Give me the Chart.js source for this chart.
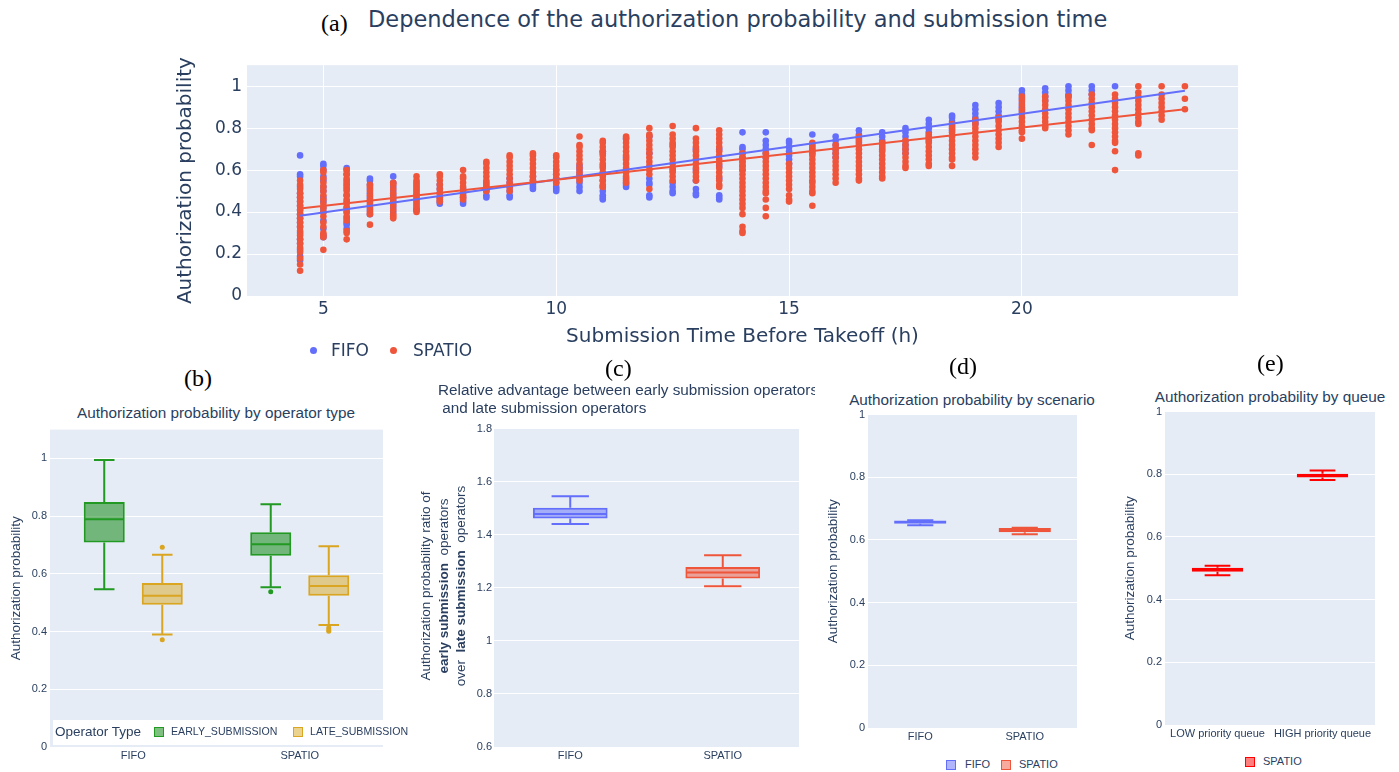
<!DOCTYPE html>
<html><head><meta charset="utf-8">
<script src="https://cdn.jsdelivr.net/npm/chart.js@4.4.0/dist/chart.umd.min.js"></script>
<style>
html,body{margin:0;padding:0;background:#fff;}
#page{position:relative;width:1399px;height:772px;overflow:hidden;background:#fff;}
.abs{position:absolute;white-space:pre;}
canvas{position:absolute;}
.lbl{font-family:"Liberation Serif","Times New Roman",serif;font-size:24px;line-height:28px;color:#000;}
.sans{font-family:"Liberation Sans",Arial,sans-serif;color:#2a3f5f;}
.dv{font-family:"DejaVu Sans",Verdana,sans-serif;color:#2a3f5f;}
.dot{position:absolute;width:7px;height:7px;border-radius:50%;}
.sq{position:absolute;width:8px;height:8px;border:1.5px solid;}
</style></head><body><div id="page">

<!-- (a) -->
<div class="abs lbl" style="left:321px;top:9px;">(a)</div>
<div class="abs dv" style="left:368px;top:6px;font-size:22.5px;line-height:27px;">Dependence of the authorization probability and submission time</div>
<canvas id="cA" width="1090" height="310" style="left:160px;top:50px;"></canvas>
<div class="dot" style="left:310px;top:347px;background:#636efa;"></div>
<div class="abs dv" style="left:331px;top:340px;font-size:17px;line-height:20px;">FIFO</div>
<div class="dot" style="left:390px;top:347px;background:#EF553B;"></div>
<div class="abs dv" style="left:413px;top:340px;font-size:17px;line-height:20px;">SPATIO</div>

<!-- (b) -->
<div class="abs lbl" style="left:184px;top:364px;">(b)</div>
<div class="abs sans" style="left:16px;top:404px;width:400px;text-align:center;font-size:15.3px;line-height:18px;">Authorization probability by operator type</div>
<canvas id="cB" width="390" height="352" style="left:0px;top:420px;"></canvas>
<div class="abs" style="left:53px;top:720px;width:330px;height:25px;background:#fff;"></div>
<div class="abs sans" style="left:55px;top:723px;font-size:13.5px;line-height:17px;">Operator Type</div>
<div class="sq" style="left:154px;top:727px;background:rgba(0,128,0,0.5);border-color:#229922;"></div>
<div class="abs sans" style="left:171px;top:725px;font-size:10.6px;line-height:13px;">EARLY_SUBMISSION</div>
<div class="sq" style="left:293px;top:727px;background:rgba(218,165,32,0.5);border-color:#DAA520;"></div>
<div class="abs sans" style="left:310px;top:725px;font-size:10.6px;line-height:13px;">LATE_SUBMISSION</div>

<!-- (c) -->
<div class="abs lbl" style="left:605px;top:354px;">(c)</div>
<div class="abs sans" style="left:438px;top:381px;width:377px;overflow:hidden;font-size:15.3px;line-height:18px;">Relative advantage between early submission operators
 and late submission operators</div>
<canvas id="cC" width="400" height="352" style="left:410px;top:420px;"></canvas>
<div class="abs sans" style="left:293px;top:560px;width:300px;height:52px;text-align:center;font-size:13.5px;line-height:17.5px;transform:rotate(-90deg);white-space:pre;">Authorization probability ratio of
<b>early submission</b>  operators
over  <b>late submission</b>  operators</div>

<!-- (d) -->
<div class="abs lbl" style="left:949px;top:352px;">(d)</div>
<div class="abs sans" style="left:822px;top:391px;width:300px;text-align:center;font-size:15.3px;line-height:18px;">Authorization probability by scenario</div>
<canvas id="cD" width="270" height="345" style="left:815px;top:405px;"></canvas>
<div class="sq" style="left:946px;top:760px;background:rgba(99,110,250,0.5);border-color:#636efa;"></div>
<div class="abs sans" style="left:965px;top:758px;font-size:11px;line-height:13px;">FIFO</div>
<div class="sq" style="left:1001px;top:760px;background:rgba(239,85,59,0.5);border-color:#EF553B;"></div>
<div class="abs sans" style="left:1019px;top:758px;font-size:11px;line-height:13px;">SPATIO</div>

<!-- (e) -->
<div class="abs lbl" style="left:1257px;top:349px;">(e)</div>
<div class="abs sans" style="left:1120px;top:388px;width:300px;text-align:center;font-size:15.3px;line-height:18px;">Authorization probability by queue</div>
<canvas id="cE" width="280" height="346" style="left:1110px;top:402px;"></canvas>
<div class="sq" style="left:1245px;top:757px;background:rgba(255,0,0,0.5);border-color:#ff0000;"></div>
<div class="abs sans" style="left:1263px;top:755px;font-size:11px;line-height:13px;">SPATIO</div>

</div>
<script>
// ---------- (a) scatter data ----------
const hours = [4.5,5,5.5,6,6.5,7,7.5,8,8.5,9,9.5,10,10.5,11,11.5,12,12.5,13,13.5,14,14.5,15,15.5,16,16.5,17,17.5,18,18.5,19,19.5,20,20.5,21,21.5,22,22.5,23,23.5];
const fifoProb = [
 [0.67,0.58,0.57,0.52,0.49,0.47,0.45,0.43,0.41,0.39,0.37,0.35,0.33,0.30,0.27,0.25,0.22,0.19,0.17],
 [0.63,0.62,0.60,0.57,0.55,0.52,0.50,0.47,0.45,0.42,0.40,0.36,0.32,0.29,0.28],
 [0.61,0.60,0.58,0.55,0.53,0.51,0.48,0.45,0.42,0.40,0.37,0.35,0.34,0.32],
 [0.56,0.55,0.53,0.51,0.49,0.47,0.45,0.43,0.41,0.39],
 [0.57,0.54,0.52,0.50,0.48,0.46,0.44,0.42,0.40],
 [0.54,0.52,0.50,0.48,0.46,0.44,0.42,0.41],
 [0.53,0.51,0.49,0.47,0.45,0.44],
 [0.51,0.49,0.47,0.45,0.44],
 [0.54,0.52,0.50,0.48,0.47],
 [0.56,0.54,0.52,0.50,0.48,0.47],
 [0.57,0.55,0.53,0.52,0.51],
 [0.60,0.58,0.56,0.54,0.52,0.51,0.50],
 [0.62,0.60,0.58,0.56,0.54,0.52,0.50],
 [0.69,0.68,0.62,0.58,0.55,0.52,0.50,0.48,0.47,0.46],
 [0.75,0.66,0.60,0.56,0.54,0.53,0.52],
 [0.76,0.68,0.56,0.54,0.53,0.48,0.47],
 [0.72,0.60,0.54,0.52,0.50,0.49],
 [0.70,0.60,0.55,0.51,0.49,0.48],
 [0.70,0.62,0.56,0.48,0.47,0.46],
 [0.78,0.71,0.70,0.68,0.66,0.64,0.62,0.60],
 [0.78,0.74,0.72,0.70,0.68,0.66],
 [0.74,0.73,0.71,0.69,0.67,0.65,0.63],
 [0.77,0.72,0.70,0.68],
 [0.76,0.74,0.72,0.70,0.68,0.66],
 [0.79,0.77,0.75,0.73],
 [0.78,0.76,0.74,0.72,0.70],
 [0.80,0.78,0.76,0.74,0.72,0.70,0.68],
 [0.84,0.82,0.80,0.78,0.76,0.74],
 [0.86,0.85,0.83,0.81,0.79],
 [0.91,0.89,0.87,0.85,0.83,0.82],
 [0.92,0.90,0.88,0.86,0.84],
 [0.98,0.96,0.94,0.92,0.90,0.88],
 [0.99,0.97,0.95,0.93],
 [1.00,0.98,0.96,0.95],
 [1.00,0.98,0.96],
 [1.00],
 [], [], []
];
const spatioProb = [
 [0.55,0.53,0.51,0.49,0.47,0.45,0.43,0.41,0.39,0.37,0.35,0.33,0.31,0.29,0.27,0.25,0.23,0.21,0.18,0.15,0.12],
 [0.60,0.59,0.56,0.54,0.52,0.50,0.48,0.46,0.44,0.42,0.40,0.38,0.35,0.33,0.30,0.29,0.28,0.22],
 [0.60,0.58,0.56,0.54,0.52,0.50,0.48,0.46,0.44,0.42,0.40,0.38,0.36,0.31,0.30,0.27],
 [0.53,0.52,0.50,0.48,0.46,0.44,0.42,0.40,0.39,0.34],
 [0.54,0.53,0.51,0.49,0.47,0.45,0.43,0.41,0.39,0.38,0.37],
 [0.57,0.55,0.53,0.51,0.49,0.47,0.45,0.43,0.41,0.40],
 [0.58,0.57,0.55,0.53,0.51,0.49,0.47,0.46,0.45],
 [0.60,0.57,0.56,0.54,0.52,0.50,0.48,0.47,0.46],
 [0.64,0.63,0.61,0.59,0.57,0.55,0.53,0.51,0.50],
 [0.67,0.66,0.64,0.62,0.60,0.58,0.56,0.54,0.52,0.50],
 [0.68,0.67,0.65,0.63,0.61,0.59,0.57,0.55],
 [0.67,0.66,0.64,0.62,0.60,0.58,0.56,0.54],
 [0.76,0.72,0.71,0.69,0.67,0.65,0.63,0.61,0.59,0.57,0.55],
 [0.74,0.73,0.71,0.69,0.67,0.65,0.63,0.61,0.59,0.57,0.55,0.53,0.52],
 [0.76,0.75,0.73,0.71,0.69,0.67,0.65,0.63,0.61,0.59,0.57,0.55,0.54],
 [0.80,0.77,0.76,0.74,0.72,0.70,0.68,0.66,0.64,0.62,0.60,0.58,0.51],
 [0.81,0.77,0.75,0.73,0.71,0.69,0.67,0.65,0.63,0.61,0.59,0.57,0.55],
 [0.80,0.75,0.73,0.71,0.69,0.67,0.65,0.63,0.61,0.59,0.57,0.55],
 [0.79,0.77,0.75,0.73,0.71,0.69,0.67,0.65,0.63,0.61,0.59,0.57,0.55,0.53,0.52],
 [0.68,0.66,0.64,0.62,0.60,0.58,0.56,0.54,0.52,0.50,0.48,0.46,0.44,0.42,0.39,0.33,0.31,0.30],
 [0.68,0.66,0.64,0.62,0.60,0.58,0.56,0.54,0.52,0.50,0.49,0.46,0.42,0.38],
 [0.63,0.61,0.59,0.57,0.55,0.53,0.51,0.48,0.46,0.45],
 [0.73,0.71,0.69,0.67,0.65,0.63,0.61,0.59,0.57,0.55,0.54,0.52,0.50,0.49,0.43],
 [0.72,0.70,0.68,0.66,0.64,0.62,0.60,0.58,0.56,0.54],
 [0.76,0.74,0.72,0.70,0.68,0.66,0.64,0.62,0.60,0.58,0.56,0.55],
 [0.73,0.71,0.69,0.67,0.65,0.63,0.61,0.59,0.57,0.56],
 [0.74,0.72,0.70,0.68,0.66,0.64,0.62,0.61],
 [0.77,0.75,0.73,0.71,0.69,0.67,0.65,0.63,0.62],
 [0.82,0.80,0.78,0.76,0.74,0.72,0.70,0.68,0.66,0.65,0.62],
 [0.84,0.82,0.80,0.78,0.76,0.74,0.72,0.70,0.68,0.66],
 [0.85,0.83,0.81,0.79,0.77,0.75,0.73,0.71],
 [0.95,0.93,0.91,0.89,0.87,0.85,0.83,0.81,0.79,0.78,0.75],
 [0.95,0.93,0.91,0.89,0.87,0.85,0.83,0.81,0.80],
 [0.95,0.93,0.91,0.89,0.87,0.85,0.83,0.81,0.79,0.77],
 [0.96,0.94,0.92,0.90,0.88,0.86,0.84,0.82,0.80,0.79,0.72],
 [0.96,0.94,0.92,0.90,0.88,0.86,0.84,0.82,0.80,0.78,0.76,0.74,0.73,0.69,0.60],
 [1.00,0.97,0.95,0.93,0.91,0.89,0.87,0.85,0.83,0.82,0.68,0.67],
 [1.00,0.96,0.94,0.92,0.90,0.88,0.86,0.84],
 [1.00,0.94,0.89]
];
const trendHours = [4.5, 23.5];
const fifoTrend = [0.382, 0.978];
const spatioTrend = [0.417, 0.890];
const aXTicks = [5, 10, 15, 20];
const probTicks = [0, 0.2, 0.4, 0.6, 0.8, 1];

// ---------- (b) operator type boxes ----------
const opCategories = ['FIFO', 'SPATIO'];
const earlyLow = [0.547, 0.554], earlyQ1 = [0.709, 0.663], earlyMed = [0.789, 0.703], earlyQ3 = [0.849, 0.744], earlyHigh = [0.995, 0.841];
const earlyOut = [[], [0.538]];
const lateLow = [0.390, 0.423], lateQ1 = [0.493, 0.524], lateMed = [0.524, 0.558], lateQ3 = [0.568, 0.595], lateHigh = [0.666, 0.696];
const lateOut = [[0.692, 0.372], [0.413, 0.406, 0.401]];

// ---------- (c) ratio boxes ----------
const ratioCategories = ['FIFO', 'SPATIO'];
const ratioLow = [1.440, 1.206], ratioQ1 = [1.461, 1.235], ratioMed = [1.478, 1.258], ratioQ3 = [1.502, 1.278], ratioHigh = [1.545, 1.323];
const ratioTicks = [0.6, 0.8, 1, 1.2, 1.4, 1.6, 1.8];

// ---------- (d) scenario boxes ----------
const scenCategories = ['FIFO', 'SPATIO'];
const scenLow = [0.647, 0.618], scenQ1 = [0.652, 0.625], scenMed = [0.657, 0.631], scenQ3 = [0.662, 0.638], scenHigh = [0.663, 0.639];

// ---------- (e) queue boxes ----------
const queueCategories = ['LOW priority queue', 'HIGH priority queue'];
const queueLow = [0.478, 0.782], queueQ1 = [0.489, 0.790], queueMed = [0.496, 0.797], queueQ3 = [0.502, 0.802], queueHigh = [0.508, 0.812];

// ---------- helpers ----------
const PLOT_BG = '#E5ECF6';
const TXT = '#2a3f5f';
const bgPlugin = {
  id: 'plotBg',
  beforeDraw(chart) {
    const a = chart.chartArea, c = chart.ctx;
    c.save(); c.fillStyle = PLOT_BG; c.fillRect(a.left, a.top, a.right - a.left, a.bottom - a.top); c.restore();
  }
};
const boxPlugin = {
  id: 'boxWhiskers',
  afterDatasetsDraw(chart) {
    const c = chart.ctx, ys = chart.scales.y;
    chart.data.datasets.forEach((ds, di) => {
      if (!ds.stats) return;
      const meta = chart.getDatasetMeta(di);
      meta.data.forEach((bar, i) => {
        const s = ds.stats[i];
        if (!s) return;
        const p = bar.getProps(['x', 'width'], true);
        const x = p.x, half = p.width / 2, cap = p.width / 4;
        const py = v => ys.getPixelForValue(v);
        c.save();
        c.strokeStyle = ds.borderColor; c.lineWidth = ds.whiskerWidth || 2;
        c.beginPath();
        c.moveTo(x - half + 1, py(s.med)); c.lineTo(x + half - 1, py(s.med));
        c.moveTo(x, py(s.q3)); c.lineTo(x, py(s.high));
        c.moveTo(x - cap, py(s.high)); c.lineTo(x + cap, py(s.high));
        c.moveTo(x, py(s.q1)); c.lineTo(x, py(s.low));
        c.moveTo(x - cap, py(s.low)); c.lineTo(x + cap, py(s.low));
        c.stroke();
        c.fillStyle = ds.borderColor;
        (s.out || []).forEach(v => { c.beginPath(); c.arc(x, py(v), 2.5, 0, Math.PI * 2); c.fill(); });
        c.restore();
      });
    });
  }
};
const fmt = v => String(+(+v).toFixed(2));
const sansFont = (size) => ({ family: '"Liberation Sans", Arial, sans-serif', size: size });

function statsAt(low, q1, med, q3, high, out, i) {
  return { low: low[i], q1: q1[i], med: med[i], q3: q3[i], high: high[i], out: out ? out[i] : [] };
}

function boxChart(id, cats, datasets, o) {
  return new Chart(document.getElementById(id), {
    type: 'bar',
    data: { labels: cats, datasets: datasets },
    options: {
      responsive: false, animation: false, events: [],
      layout: { padding: { top: o.padTop, right: o.padRight, bottom: 0, left: 0 } },
      plugins: { legend: { display: false }, tooltip: { enabled: false } },
      datasets: { bar: { categoryPercentage: o.catPct, barPercentage: o.barPct, skipNull: true, grouped: true } },
      scales: {
        x: {
          type: 'category', offset: true,
          grid: { display: false, drawTicks: false }, border: { display: false },
          ticks: { font: sansFont(o.catFont || 11), color: TXT, padding: o.xPad, maxRotation: 0, autoSkip: false },
          afterFit(a) { a.height = o.xHeight; }
        },
        y: {
          type: 'linear', min: o.min, max: o.max,
          grid: { color: '#ffffff', lineWidth: 1, drawTicks: false }, border: { display: false },
          ticks: { font: sansFont(11), color: TXT, padding: o.yPad, callback: fmt },
          afterBuildTicks(a) { a.ticks = o.ticks.map(v => ({ value: v })); },
          afterFit(a) { a.width = o.yWidth; },
          title: o.yTitle ? { display: true, text: o.yTitle, font: sansFont(13.5), color: TXT, padding: { top: o.yTitlePad, bottom: 0 } } : { display: false }
        }
      }
    },
    plugins: [bgPlugin, boxPlugin]
  });
}

// ---------- (a) ----------
const fifoPoints = [], spatioPoints = [];
hours.forEach((h, i) => {
  fifoProb[i].forEach(v => fifoPoints.push({ x: h, y: v }));
  spatioProb[i].forEach(v => spatioPoints.push({ x: h, y: v }));
});
const dvFont = (size) => ({ family: '"DejaVu Sans", Verdana, sans-serif', size: size });
new Chart(document.getElementById('cA'), {
  type: 'scatter',
  data: {
    datasets: [
      { label: 'FIFO', data: fifoPoints, backgroundColor: '#636efa', pointRadius: 3.3, borderWidth: 0, order: 4 },
      { label: 'SPATIO', data: spatioPoints, backgroundColor: '#EF553B', pointRadius: 3.3, borderWidth: 0, order: 3 },
      { type: 'line', label: 'FIFO trend', data: trendHours.map((h, i) => ({ x: h, y: fifoTrend[i] })), borderColor: '#636efa', borderWidth: 2, pointRadius: 0, fill: false, order: 2 },
      { type: 'line', label: 'SPATIO trend', data: trendHours.map((h, i) => ({ x: h, y: spatioTrend[i] })), borderColor: '#EF553B', borderWidth: 2, pointRadius: 0, fill: false, order: 1 }
    ]
  },
  options: {
    responsive: false, animation: false, events: [],
    layout: { padding: { top: 10, right: 12, bottom: 0, left: 0 } },
    plugins: { legend: { display: false }, tooltip: { enabled: false } },
    scales: {
      x: {
        type: 'linear', min: 3.36, max: 24.64,
        grid: { color: '#ffffff', lineWidth: 1, drawTicks: false }, border: { display: false },
        ticks: { font: dvFont(17), color: TXT, padding: 3, callback: fmt },
        afterBuildTicks(a) { a.ticks = aXTicks.map(v => ({ value: v })); },
        afterFit(a) { a.height = 64; },
        title: { display: true, text: 'Submission Time Before Takeoff (h)', font: dvFont(20), color: TXT, padding: { top: 0, bottom: 11 } }
      },
      y: {
        type: 'linear', min: 0, max: 1.1,
        grid: { color: '#ffffff', lineWidth: 1, drawTicks: false }, border: { display: false },
        ticks: { font: dvFont(17), color: TXT, padding: 5, callback: fmt },
        afterBuildTicks(a) { a.ticks = probTicks.map(v => ({ value: v })); },
        afterFit(a) { a.width = 87; },
        title: { display: true, text: 'Authorization probability', font: dvFont(20), color: TXT, padding: { top: 14, bottom: 0 } }
      }
    }
  },
  plugins: [bgPlugin]
});

// ---------- (b) ----------
boxChart('cB', opCategories, [
  { label: 'EARLY_SUBMISSION', data: opCategories.map((_, i) => [earlyQ1[i], earlyQ3[i]]),
    backgroundColor: 'rgba(0,128,0,0.5)', borderColor: '#229922', borderWidth: 2, borderSkipped: false,
    stats: opCategories.map((_, i) => statsAt(earlyLow, earlyQ1, earlyMed, earlyQ3, earlyHigh, earlyOut, i)) },
  { label: 'LATE_SUBMISSION', data: opCategories.map((_, i) => [lateQ1[i], lateQ3[i]]),
    backgroundColor: 'rgba(218,165,32,0.5)', borderColor: '#DAA520', borderWidth: 2, borderSkipped: false,
    stats: opCategories.map((_, i) => statsAt(lateLow, lateQ1, lateMed, lateQ3, lateHigh, lateOut, i)) }
], { padTop: 6, padRight: 7, catPct: 0.697, barPct: 0.707, min: 0, max: 1.1, ticks: probTicks,
     xHeight: 25, xPad: 2, yPad: 3, yWidth: 50, yTitle: 'Authorization probability', yTitlePad: 8 });

// ---------- (c) ----------
const ratioColors = ['#636efa', '#EF553B'];
const ratioFills = ['rgba(99,110,250,0.5)', 'rgba(239,85,59,0.5)'];
boxChart('cC', ratioCategories, ratioCategories.map((name, k) => ({
  label: name,
  data: ratioCategories.map((_, i) => i === k ? [ratioQ1[i], ratioQ3[i]] : null),
  backgroundColor: ratioFills[k], borderColor: ratioColors[k], borderWidth: 2, borderSkipped: false,
  stats: ratioCategories.map((_, i) => i === k ? statsAt(ratioLow, ratioQ1, ratioMed, ratioQ3, ratioHigh, null, i) : null)
})), { padTop: 6, padRight: 11, catPct: 1, barPct: 0.49, min: 0.6, max: 1.8, ticks: ratioTicks,
     xHeight: 25, xPad: 2, yPad: 2, yWidth: 84, yTitle: null });

// ---------- (d) ----------
boxChart('cD', scenCategories, scenCategories.map((name, k) => ({
  label: name,
  data: scenCategories.map((_, i) => i === k ? [scenQ1[i], scenQ3[i]] : null),
  backgroundColor: ratioFills[k], borderColor: ratioColors[k], borderWidth: 2, borderSkipped: false,
  stats: scenCategories.map((_, i) => i === k ? statsAt(scenLow, scenQ1, scenMed, scenQ3, scenHigh, null, i) : null)
})), { padTop: 8, padRight: 8, catPct: 1, barPct: 0.5, min: 0, max: 1, ticks: probTicks,
     xHeight: 22, xPad: 2, yPad: 3, yWidth: 53, yTitle: 'Authorization probability', yTitlePad: 10 });

// ---------- (e) ----------
boxChart('cE', queueCategories, [{
  label: 'SPATIO',
  data: queueCategories.map((_, i) => [queueQ1[i], queueQ3[i]]),
  backgroundColor: 'rgba(255,0,0,0.5)', borderColor: '#ff0000', borderWidth: 2, borderSkipped: false,
  stats: queueCategories.map((_, i) => statsAt(queueLow, queueQ1, queueMed, queueQ3, queueHigh, null, i))
}], { padTop: 8, padRight: 15, catPct: 1, barPct: 0.49, min: 0, max: 1, ticks: probTicks,
     xHeight: 23, xPad: 2, yPad: 3, yWidth: 55, yTitle: 'Authorization probability', yTitlePad: 12 });
</script>
</body></html>
